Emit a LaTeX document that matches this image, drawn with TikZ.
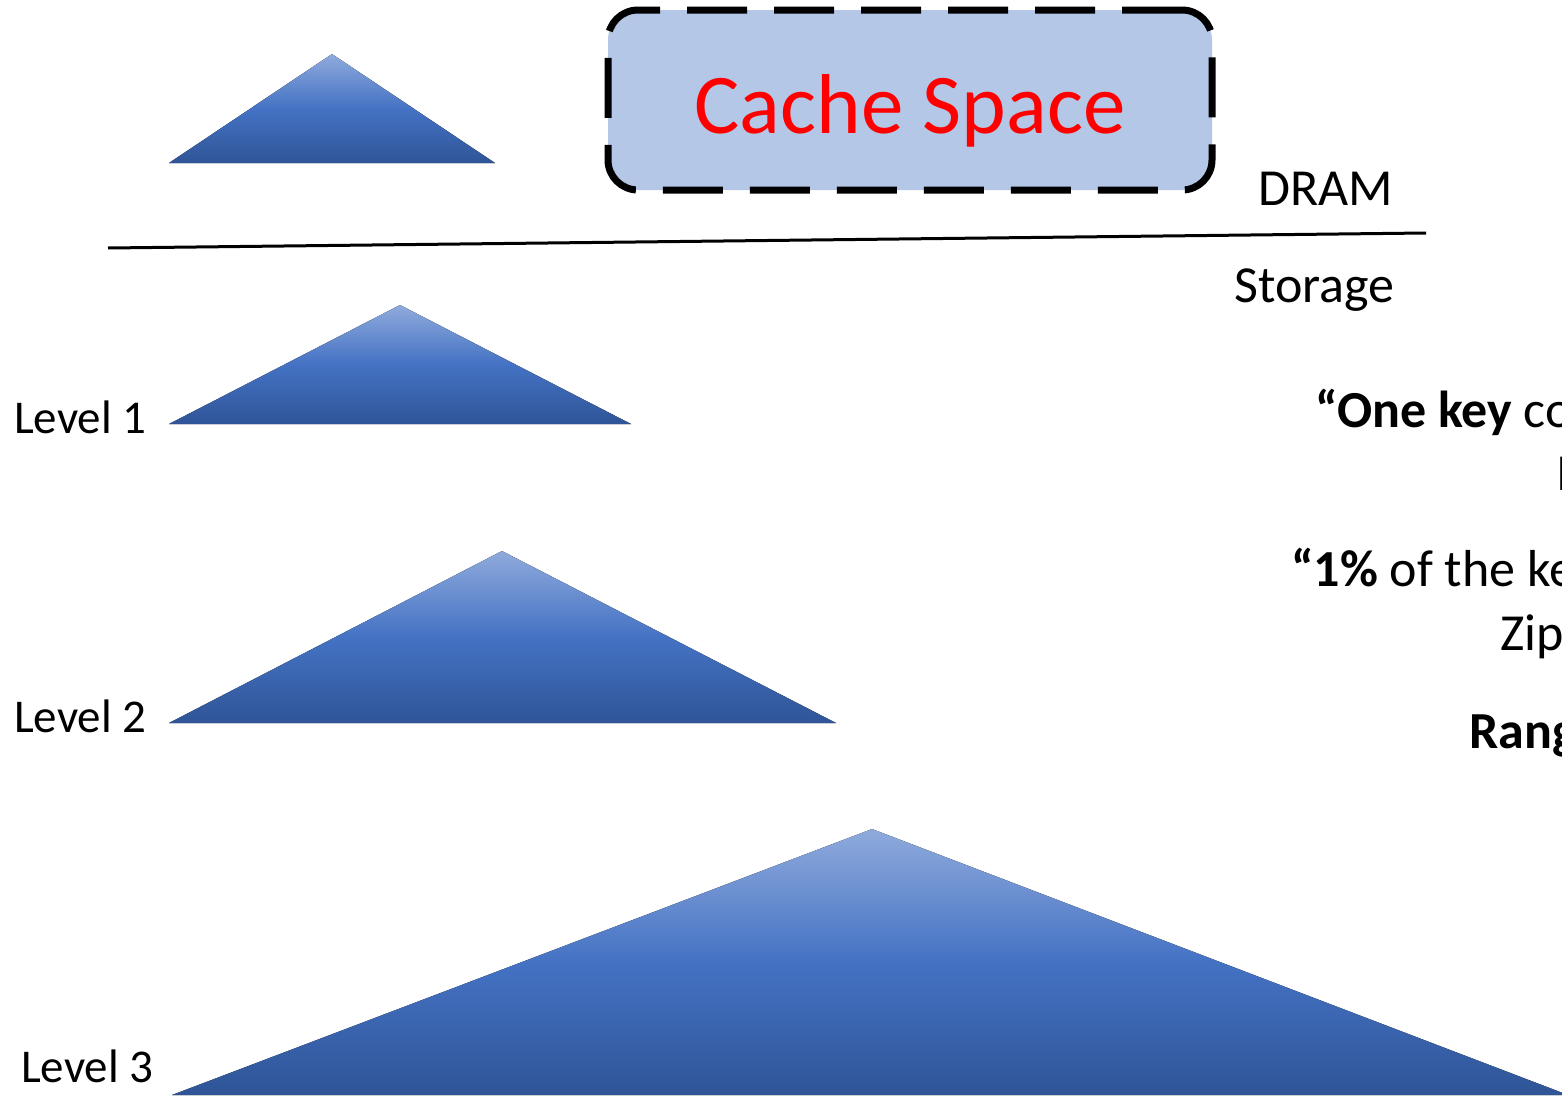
\documentclass[tikz,border=0pt]{standalone}
\usepackage{fontspec}
\setmainfont{Carlito}
\usetikzlibrary{positioning}

\definecolor{triTop}{HTML}{8FAADC}
\definecolor{triMid}{HTML}{4472C4}
\definecolor{triBot}{HTML}{2F5597}
\definecolor{cacheFill}{HTML}{B4C7E7}

\begin{document}
\begin{tikzpicture}[x=1pt, y=-1pt,
    tree/.style = {top color=triTop, bottom color=triBot, middle color=triMid},
    lvl/.style  = {inner sep=0, anchor=base west, font=\fontsize{47}{56}\selectfont},
    tier/.style = {inner sep=0, anchor=base east, font=\fontsize{52}{62}\selectfont},
    note/.style = {inner sep=0, anchor=base west, font=\fontsize{52}{62}\selectfont},
    cache/.style = {draw, fill=cacheFill, rounded corners=30pt, line width=7pt,
                    dash pattern=on 60pt off 27pt, text=red,
                    minimum width=604pt, minimum height=180pt,
                    text height=66pt, text depth=0pt,
                    font=\fontsize{85}{100}\selectfont}
  ]
  \clip (0,0) rectangle (1562,1095);

  % memtable in DRAM and the on-disk levels
  \fill[tree] (169,163) -- (332,54) -- (495,163) -- cycle;
  \fill[tree] (169,424) -- (400,305) -- (631,424) -- cycle;
  \fill[tree] (169,723) -- (502,551) -- (836,723) -- cycle;
  \fill[tree] (172,1095) -- (872,829) -- (1568,1095) -- cycle;

  \node[cache] (cache) at (910,100) {Cache Space};

  % DRAM / storage boundary
  \coordinate (split west) at (108,248);
  \coordinate (split east) at (1426,233);
  \draw[line width=3pt] (split west) -- (split east);

  \node[tier] (dram) at (1393,205) {DRAM};
  \node[tier] (storage) at (1395,302) {Storage};

  \node[lvl] (level1) at (14,433) {Level 1};
  \node[lvl] (level2) at (14,732) {Level 2};
  \node[lvl] (level3) at (21,1082) {Level 3};

  % workload notes
  \node[note] (onekey) at (1315,427) {\textbf{“One key} co};
  \node[note] (onekey2) at (1556,490) {I};
  \node[note] (hotkeys) at (1291,586) {\textbf{“1\%} of the ke};
  \node[note] (zipf) at (1500,650) {Zip};
  \node[note] (range) at (1469,748) {\textbf{Rang}};
\end{tikzpicture}
\end{document}
